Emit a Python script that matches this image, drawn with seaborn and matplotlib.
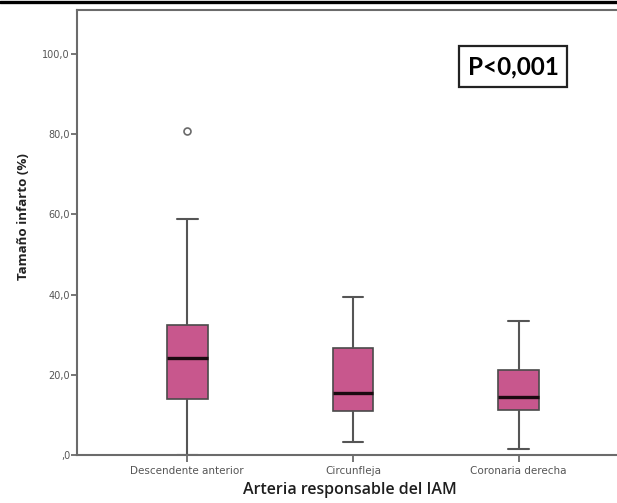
import matplotlib
matplotlib.use("Agg")
import matplotlib.pyplot as plt
from matplotlib.lines import Line2D
from matplotlib.ticker import FuncFormatter
import seaborn as sns
import pandas as pd

# Infarct size (%) by culprit artery
categories = ["Descendente anterior", "Circunfleja", "Coronaria derecha"]
descendente_anterior = [0.0, 14.0, 14.0, 14.0, 24.3, 24.3, 24.3, 24.3, 24.3, 32.4, 32.4, 58.8, 80.9]
circunfleja = [3.2, 11.1, 11.1, 15.4, 15.4, 15.4, 26.8, 26.8, 39.4]
coronaria_derecha = [1.5, 11.2, 11.2, 14.5, 14.5, 14.5, 21.3, 21.3, 33.4]
y_ticks = [0, 20, 40, 60, 80, 100]
p_label = "P<0,001"

rows = []
for name, vals in zip(categories, [descendente_anterior, circunfleja, coronaria_derecha]):
    rows += [(name, v) for v in vals]
df = pd.DataFrame(rows, columns=["arteria", "tamano"])

sns.set_style("white")
plt.rcParams["font.family"] = ["DejaVu Sans"]

W, H = 617, 503
fig = plt.figure(figsize=(W / 100, H / 100), dpi=100)
ax = fig.add_axes([77 / W, 1 - 455 / H, (W - 77) / W + 0.01, (455 - 10) / H])

spine_c = "#6b6b6b"
line_c = "#555555"
sns.boxplot(
    data=df, x="arteria", y="tamano", order=categories, ax=ax,
    width=0.245, color="#c8578d", saturation=1, whis=1.5,
    linewidth=1.4, linecolor=line_c,
    boxprops=dict(edgecolor="#4a4a4a", linewidth=1.2),
    medianprops=dict(color="#1a0a10", linewidth=2.4),
    whiskerprops=dict(color=line_c, linewidth=1.5),
    capprops=dict(color=line_c, linewidth=1.5),
    flierprops=dict(marker="o", markersize=5, markerfacecolor="white",
                    markeredgecolor="#6a6a6a", markeredgewidth=1.2),
    capwidths=0.124,
)

ax.set_ylim(0, 111)
ax.set_xlim(-0.665, 2.63)
ax.set_yticks(y_ticks)


def fmt(v, pos):
    s = ("%.1f" % v).replace(".", ",")
    return s[1:] if s.startswith("0") else s


ax.yaxis.set_major_formatter(FuncFormatter(fmt))

for s in ["left", "bottom", "top"]:
    ax.spines[s].set_color(spine_c)
    ax.spines[s].set_linewidth(1.5)
ax.spines["right"].set_visible(False)

ax.tick_params(axis="y", direction="out", length=4, width=1.3, color=spine_c,
               labelsize=7, labelcolor="#555555", pad=1, left=True)
ax.tick_params(axis="x", direction="out", length=5, width=1.3, color=spine_c,
               labelsize=7.5, labelcolor="#555555", pad=3, bottom=True)

ax.set_xlabel("Arteria responsable del IAM", fontsize=11.5, color="#1e1e1e",
              family=["Open Sans", "DejaVu Sans"], fontweight="semibold", labelpad=4)
ax.set_ylabel("Tamaño infarto (%)", fontsize=9.6, fontweight="bold", color="#222222",
              family=["Open Sans", "DejaVu Sans"])
ax.yaxis.set_label_coords(-(77 - 24) / (W - 77 + 6), (455 - 217) / 445)
ax.yaxis.label.set_va("center")

ax.text(1.965, 96.9, p_label, ha="center", va="center", fontsize=17.5,
        fontweight="bold", family=["Lato", "DejaVu Sans"], color="black",
        bbox=dict(boxstyle="square,pad=0.36", facecolor="white", edgecolor="#222222", linewidth=1.6))

# heavy rule along the top edge of the figure
fig.add_artist(Line2D([0, 1], [1 - 1.5 / H, 1 - 1.5 / H], transform=fig.transFigure,
                      color="black", linewidth=2.4))

fig.savefig("out.png", dpi=100)
